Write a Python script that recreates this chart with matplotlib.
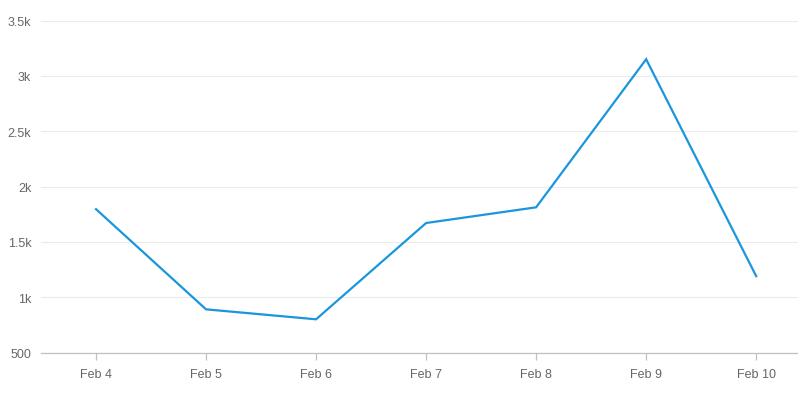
import matplotlib
matplotlib.use("Agg")
import matplotlib.pyplot as plt
from matplotlib.ticker import FixedLocator

# --- data ---
days = ["Feb 4", "Feb 5", "Feb 6", "Feb 7", "Feb 8", "Feb 9", "Feb 10"]
values = [1795, 890, 800, 1670, 1812, 3150, 1190]
y_ticks = [500, 1000, 1500, 2000, 2500, 3000, 3500]
y_labels = ["500", "1k", "1.5k", "2k", "2.5k", "3k", "3.5k"]

plt.rcParams["font.family"] = ["Liberation Sans", "DejaVu Sans"]

fig = plt.figure(figsize=(7.98, 4.06), dpi=100)
ax = fig.add_axes([41 / 798, 1 - 353.5 / 406, 1 - 41 / 798, (353.5 - 21.5) / 406])

x = list(range(len(days)))
ax.plot(x, values, color="#1a96dc", linewidth=1.6, solid_joinstyle="miter", zorder=3)

ax.set_xlim(-0.5, 6.38)
ax.set_ylim(500, 3500)
ax.set_xticks(x)
ax.set_xticklabels(days)
ax.yaxis.set_major_locator(FixedLocator(y_ticks))
ax.set_yticklabels(y_labels)

ax.grid(axis="y", color="#ebebeb", linewidth=0.8)
ax.set_axisbelow(True)
for side in ["top", "right", "left"]:
    ax.spines[side].set_visible(False)
ax.spines["bottom"].set_color("#c0c0c0")
ax.spines["bottom"].set_linewidth(0.9)

ax.tick_params(axis="x", colors="#c0c0c0", length=5, width=0.9, pad=6,
               labelcolor="#666666", labelsize=9)
ax.tick_params(axis="y", length=0, pad=7, labelcolor="#666666", labelsize=9)

fig.savefig("out.png", dpi=100)
